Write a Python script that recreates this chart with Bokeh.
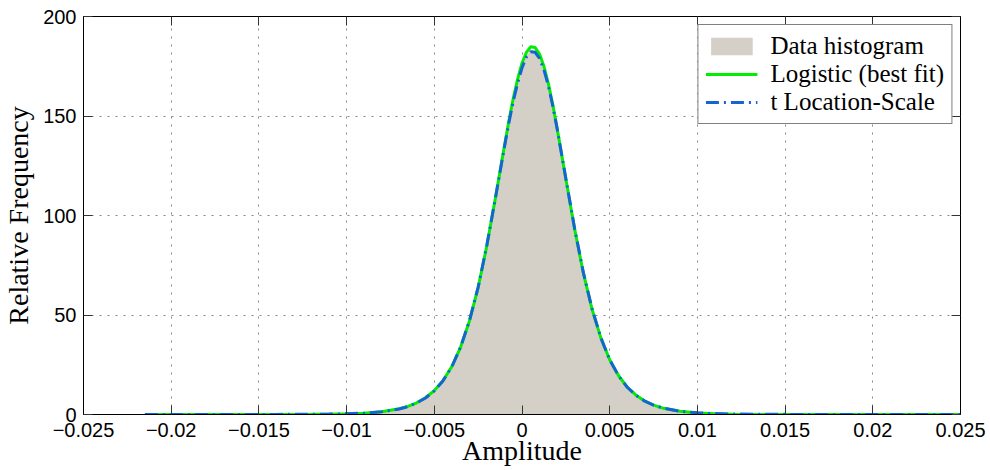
from bokeh.plotting import figure
from bokeh.models import (FixedTicker, CustomJSTickFormatter, Legend, LegendItem,
                          LinearAxis, ColumnDataSource)
from bokeh.embed import file_html
from bokeh.resources import INLINE

# ---------------- data ----------------
amplitude = [-0.0215, -0.02, -0.018, -0.016, -0.014, -0.012, -0.011, -0.01, -0.009,
             -0.008, -0.007, -0.0065, -0.006, -0.0055, -0.005, -0.0045, -0.004,
             -0.0035, -0.003, -0.0025, -0.002, -0.0015, -0.001, -0.00075, -0.0005,
             -0.00025, 0.0, 0.00025, 0.0005, 0.00075, 0.001, 0.00125, 0.0015,
             0.00175, 0.002, 0.0025, 0.003, 0.0035, 0.004, 0.0045, 0.005, 0.0055,
             0.006, 0.0065, 0.007, 0.0075, 0.008, 0.009, 0.01, 0.011, 0.012, 0.014,
             0.016, 0.018, 0.02, 0.0225, 0.025]

hist_freq = [0.0, 0.0, 0.0, 0.01, 0.03, 0.1, 0.18, 0.33, 0.7, 1.4, 2.85, 4.05, 5.85,
             8.4, 12.0, 17.0, 24.0, 33.9, 47.0, 64.0, 85.2, 109.6, 134.8, 147.0,
             157.8, 167.2, 175.0, 180.5, 183.0, 182.8, 179.6, 173.8, 165.6, 155.5,
             143.9, 118.5, 93.4, 71.2, 52.8, 38.4, 27.5, 19.5, 13.7, 9.65, 6.75,
             4.7, 3.3, 1.62, 0.8, 0.4, 0.2, 0.06, 0.02, 0.0, 0.0, 0.0, 0.0]

logistic_fit = [0.0, 0.0, 0.0, 0.0, 0.02, 0.08, 0.16, 0.32, 0.68, 1.38, 2.86, 4.11,
                5.89, 8.43, 12.0, 17.1, 24.1, 33.9, 46.9, 63.8, 85.0, 109.5, 135.0,
                147.5, 158.8, 168.5, 176.5, 182.0, 184.8, 184.4, 181.1, 175.0, 166.4,
                155.9, 144.0, 118.4, 93.2, 71.0, 52.7, 38.4, 27.5, 19.6, 13.8, 9.72,
                6.79, 4.74, 3.31, 1.6, 0.77, 0.37, 0.18, 0.04, 0.01, 0.0, 0.0, 0.0, 0.0]

tls_fit = [0.01, 0.01, 0.02, 0.03, 0.05, 0.12, 0.2, 0.35, 0.7, 1.4, 2.8, 4.0, 5.8,
           8.3, 11.9, 17.0, 24.0, 33.9, 47.0, 64.0, 85.3, 109.6, 134.5, 146.5, 157.3,
           166.5, 174.2, 179.6, 182.3, 182.0, 178.9, 173.2, 165.2, 155.3, 143.8,
           118.6, 93.5, 71.3, 52.9, 38.5, 27.5, 19.5, 13.7, 9.6, 6.7, 4.7, 3.3, 1.65,
           0.85, 0.45, 0.25, 0.09, 0.04, 0.02, 0.01, 0.01, 0.0]

xticks = [-0.025, -0.02, -0.015, -0.01, -0.005, 0.0, 0.005, 0.01, 0.015, 0.02, 0.025]
xtick_labels = ["\u22120.025", "\u22120.02", "\u22120.015", "\u22120.01", "\u22120.005",
                "0", "0.005", "0.01", "0.015", "0.02", "0.025"]
yticks = [0, 50, 100, 150, 200]

series_labels = ["Data histogram", "Logistic (best fit)", "t Location-Scale"]

# ---------------- figure ----------------
src = ColumnDataSource(dict(x=amplitude, h=hist_freq, lg=logistic_fit, t=tls_fit))

p = figure(width=990, height=470, x_range=(-0.025, 0.025), y_range=(0, 200),
           output_backend="svg", toolbar_location=None,
           min_border_left=82, min_border_right=30, min_border_top=16,
           min_border_bottom=56)
p.background_fill_color = "white"
p.border_fill_color = "white"
p.outline_line_color = "black"
p.outline_line_width = 1

area = p.varea(x="x", y1=0, y2="h", source=src, fill_color="#d4d0c8")
g = p.line(x="x", y="lg", source=src, line_color="#00ee00", line_width=3)
b = p.line(x="x", y="t", source=src, line_color="#1464d2", line_width=3,
           line_dash="13 5 2 5")

fmt = CustomJSTickFormatter(args=dict(tkpos=xticks, tklab=xtick_labels), code="""
let bi = 0, bd = 1e9;
for (let k = 0; k < tkpos.length; k++) {
  const d = Math.abs(tkpos[k] - tick);
  if (d < bd) { bd = d; bi = k; }
}
return tklab[bi];
""")

tick_font = "Liberation Sans"
serif = "Liberation Serif"

xa = p.xaxis[0]
xa.ticker = FixedTicker(ticks=xticks)
xa.formatter = fmt
ya = p.yaxis[0]
ya.ticker = FixedTicker(ticks=yticks)
for ax in (xa, ya):
    ax.major_label_text_font = tick_font
    ax.major_label_text_font_size = "20px"
    ax.major_label_text_color = "black"
    ax.major_tick_in = 9
    ax.major_tick_out = 0
    ax.minor_tick_line_color = None
    ax.axis_line_color = "black"
    ax.major_tick_line_color = "#333333"
    ax.axis_label_text_font = serif
    ax.axis_label_text_font_size = "28px"
    ax.axis_label_text_font_style = "normal"
    ax.axis_label_text_color = "black"
xa.axis_label = "Amplitude"
ya.axis_label = "Relative Frequency"
xa.major_label_standoff = 8
xa.axis_label_standoff = -5
ya.major_label_standoff = 7
ya.axis_label_standoff = 6

# box ticks on top / right (no labels)
top = LinearAxis(ticker=FixedTicker(ticks=xticks), formatter=CustomJSTickFormatter(code="return '';"),
                 major_label_text_font_size="1px", major_label_standoff=0,
                 major_tick_in=9, major_tick_out=0, minor_tick_line_color=None,
                 axis_line_color="black", major_tick_line_color="#333333")
right = LinearAxis(ticker=FixedTicker(ticks=yticks), formatter=CustomJSTickFormatter(code="return '';"),
                   major_label_text_font_size="1px", major_label_standoff=0,
                   major_tick_in=9, major_tick_out=0, minor_tick_line_color=None,
                   axis_line_color="black", major_tick_line_color="#333333")
p.add_layout(top, "above")
p.add_layout(right, "right")

for grid, tk in ((p.xgrid[0], xticks), (p.ygrid[0], yticks)):
    grid.ticker = FixedTicker(ticks=tk)
    grid.grid_line_color = "#888888"
    grid.grid_line_dash = "2 6"
    grid.grid_line_width = 1

legend = Legend(items=[LegendItem(label=series_labels[0], renderers=[area]),
                       LegendItem(label=series_labels[1], renderers=[g]),
                       LegendItem(label=series_labels[2], renderers=[b])],
                location="top_right")
legend.margin = 8
legend.padding = 7
legend.spacing = 0
legend.glyph_width = 52
legend.glyph_height = 22
legend.label_standoff = 13
legend.label_text_font = serif
legend.label_text_font_size = "25px"
legend.label_text_color = "black"
legend.border_line_color = "black"
legend.border_line_width = 1
legend.background_fill_color = "white"
legend.background_fill_alpha = 1
p.add_layout(legend, "center")

open("out.html", "w").write(file_html(p, INLINE))
